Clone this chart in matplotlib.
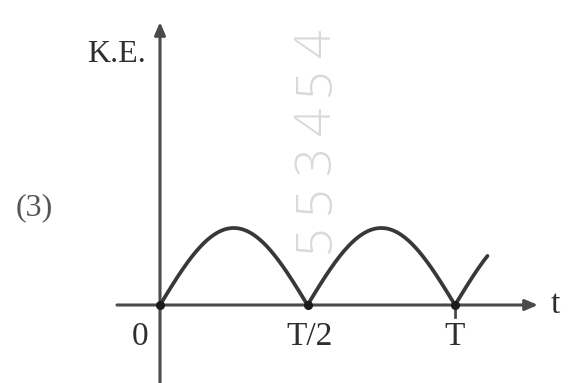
import numpy as np
import matplotlib
matplotlib.use("Agg")
import matplotlib.pyplot as plt

# Data (time in units of T, kinetic energy in units of K.E._max)
t_end = 1.11
n_pts = 400
tick_positions = [0.0, 0.5, 1.0]
tick_labels = ["0", "T/2", "T"]
ke_peak = 1.0
period = 1.0
y_label = "K.E."
x_label = "t"
option_label = "(3)"
watermark = "553454"

t = np.linspace(0, t_end, n_pts)
ke = ke_peak * np.abs(np.sin(2 * np.pi * t / period))

W, H = 571, 383
fig = plt.figure(figsize=(W / 100, H / 100), dpi=100)
ax = fig.add_axes([0, 0, 1, 1])
ax.set_axis_off()

# pixel mapping: origin at (160, 305), T spans 295 px, KE 1 spans 77 px
x0, y0, sx, sy = 160, 305, 295, 77
ax.set_xlim(-x0 / sx, (W - x0) / sx)
ax.set_ylim(-(H - y0) / sy, y0 / sy)

def px(x, y):
    return (x - x0) / sx, (y0 - y) / sy

axc = "#4a4a4a"
txt = "#2e2e2e"
serif = ["Liberation Serif", "DejaVu Serif"]

# watermark, vertical, reading bottom to top, letter-spaced
wm_bottom, wm_top, wm_x = 258, 23, 317
step = (wm_bottom - wm_top) / len(watermark)
for i, ch in enumerate(watermark):
    yc = wm_bottom - step * (i + 0.5)
    ax.text(*px(wm_x, yc), ch, rotation=90, ha="center", va="center",
            fontsize=36, color="#d9d9d9", fontweight="light",
            family=["Open Sans", "Liberation Sans", "DejaVu Sans"], zorder=0)

# axes lines with arrows
ax.annotate("", xy=px(538, y0), xytext=px(117, y0),
            arrowprops=dict(arrowstyle="-|>,head_length=0.75,head_width=0.32", color=axc, lw=2.2,
                            shrinkA=0, shrinkB=0))
ax.annotate("", xy=px(x0, 22), xytext=px(x0, H + 5),
            arrowprops=dict(arrowstyle="-|>,head_length=0.75,head_width=0.32", color=axc, lw=2.2,
                            shrinkA=0, shrinkB=0))

# curve
ax.plot(t, ke, color="#383838", lw=2.7, solid_capstyle="round", zorder=3)
ax.plot(tick_positions, [0] * len(tick_positions), "o", color="#1a1a1a", ms=5.5, zorder=4)

# tick labels
label_x = [140, 310, 455]
for lx, lab in zip(label_x, tick_labels):
    ax.text(*px(lx, 337), lab, ha="center", va="center", fontsize=24, color=txt, family=serif)
# small tick below T
ax.plot([1.0, 1.0], [0, -12 / sy], color=axc, lw=2.0)

ax.text(*px(555, 305), x_label, ha="center", va="center", fontsize=24, color=txt, family=serif)
ax.text(*px(116, 54), y_label, ha="center", va="center", fontsize=23,
        color=txt, family=serif)
ax.text(*px(34, 208), option_label, ha="center", va="center", fontsize=23,
        color="#555555", family=serif)

fig.savefig("out.png", dpi=100)
